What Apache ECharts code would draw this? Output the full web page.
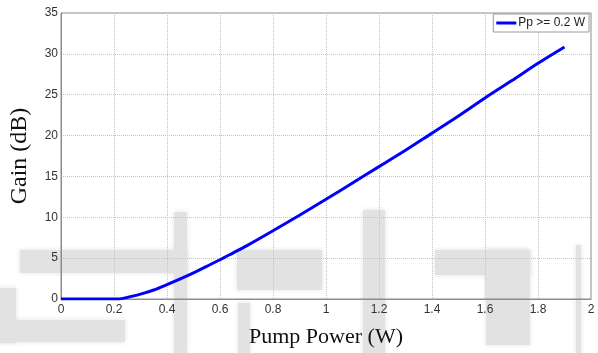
<!DOCTYPE html>
<html>
<head>
<meta charset="utf-8">
<script src="https://cdn.jsdelivr.net/npm/echarts@6/dist/echarts.min.js"></script>
<style>
html,body{margin:0;padding:0;background:#fff;}
#main{width:598px;height:353px;}
</style>
</head>
<body>
<div id="main"></div>
<script>
var pumpPower = [0, 0.1, 0.2, 0.22, 0.25, 0.3, 0.35, 0.4, 0.45, 0.5, 0.55, 0.6, 0.65, 0.7, 0.8, 0.9, 1.0, 1.1, 1.2, 1.3, 1.4, 1.5, 1.6, 1.7, 1.8, 1.9];
var gainDb = [0, 0, 0, 0, 0.2, 0.6, 1.1, 1.75, 2.45, 3.2, 4.0, 4.8, 5.65, 6.5, 8.35, 10.25, 12.2, 14.2, 16.2, 18.2, 20.3, 22.4, 24.6, 26.7, 28.85, 30.85];
var seriesName = 'Pp >= 0.2 W';
var xTitle = 'Pump Power (W)';
var yTitle = 'Gain (dB)';

var chart = echarts.init(document.getElementById('main'), null, {renderer: 'canvas'});
var wm = '#e2e2e2';
function blob(x, y, w, h) {
  return {type: 'rect', z: -10, silent: true, shape: {x: x, y: y, width: w, height: h},
    style: {fill: wm, shadowBlur: 5, shadowColor: wm}};
}
var option = {
  backgroundColor: '#fff',
  animation: false,
  graphic: [
    blob(20, 250, 167, 23),
    blob(174, 212, 13, 141),
    blob(237, 250, 85, 40),
    blob(238, 303, 12, 50),
    blob(363, 210, 22, 143),
    blob(435, 250, 95, 25),
    blob(486, 250, 44, 95),
    blob(576, 245, 5, 108),
    blob(0, 320, 125, 22),
    blob(0, 288, 16, 55)
  ],
  grid: {left: 53, right: 7, top: 13, bottom: 42, show: true, borderColor: '#8c8c8c', borderWidth: 1},
  legend: {
    show: true,
    right: 9, top: 14,
    padding: [3, 4, 3, 3],
    backgroundColor: '#fff',
    borderColor: '#9a9a9a', borderWidth: 1, borderRadius: 0,
    itemWidth: 20, itemHeight: 3, itemGap: 4,
    icon: 'rect',
    textStyle: {fontFamily: 'Liberation Sans, Arial, sans-serif', fontSize: 12, color: '#222', padding: [0, 0, 0, -3]},
    data: [seriesName]
  },
  xAxis: {
    type: 'value', min: 0, max: 2, interval: 0.2,
    name: xTitle, nameLocation: 'middle', nameGap: 27,
    nameTextStyle: {fontFamily: 'Liberation Serif, Times New Roman, serif', fontSize: 22, color: '#111'},
    axisLine: {show: true, lineStyle: {color: '#8c8c8c', width: 1}},
    axisTick: {show: false},
    axisLabel: {fontFamily: 'Liberation Sans, Arial, sans-serif', fontSize: 12, color: '#333', margin: 5,
      formatter: function (v) { return +v.toFixed(1) + ''; }},
    splitLine: {show: true, lineStyle: {color: '#c4c4c4', type: [1, 1], width: 1}}
  },
  yAxis: {
    type: 'value', min: 0, max: 35, interval: 5,
    name: yTitle, nameLocation: 'middle', nameGap: 29,
    nameTextStyle: {fontFamily: 'Liberation Serif, Times New Roman, serif', fontSize: 24, color: '#111'},
    axisLine: {show: true, lineStyle: {color: '#8c8c8c', width: 1}},
    axisTick: {show: false},
    axisLabel: {fontFamily: 'Liberation Sans, Arial, sans-serif', fontSize: 12, color: '#333', margin: 3},
    splitLine: {show: true, lineStyle: {color: '#c4c4c4', type: [1, 1], width: 1}}
  },
  series: [{
    name: seriesName,
    type: 'line',
    data: pumpPower.map(function (x, i) { return [x, gainDb[i]]; }),
    smooth: 0.3,
    showSymbol: false,
    lineStyle: {color: '#0000ff', width: 3},
    itemStyle: {color: '#0000ff'}
  }]
};
chart.setOption(option);
</script>
</body>
</html>
